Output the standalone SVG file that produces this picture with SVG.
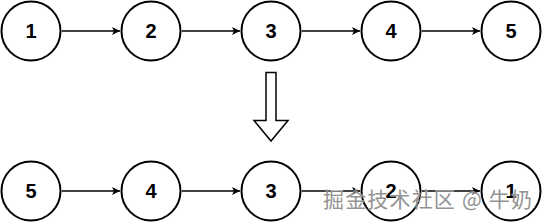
<svg xmlns="http://www.w3.org/2000/svg" width="542" height="222" viewBox="0 0 542 222">
<style>
.n circle{fill:#fff;stroke:#000;stroke-width:2}
.n text{font-family:"Liberation Sans",Arial,sans-serif;font-size:20px;font-weight:bold;text-anchor:middle;dominant-baseline:central;fill:#000}
.c line{stroke:#000;stroke-width:1.5}
.wm{font-family:"Noto Sans CJK SC","Liberation Sans",sans-serif;font-size:21px;fill:#888;stroke:#fff;stroke-width:0.6;paint-order:stroke;opacity:0.9}
</style>
<defs>
<marker id="ah" markerWidth="10" markerHeight="10" refX="9" refY="5" orient="auto" markerUnits="userSpaceOnUse">
<path d="M1,1 L9,5 L1,9 L3,5 Z" fill="#000"/>
</marker>
</defs>
<g class="c">
<line x1="62" y1="31" x2="120" y2="31" marker-end="url(#ah)"/>
<line x1="182" y1="31" x2="240" y2="31" marker-end="url(#ah)"/>
<line x1="302" y1="31" x2="360" y2="31" marker-end="url(#ah)"/>
<line x1="422" y1="31" x2="480" y2="31" marker-end="url(#ah)"/>
<line x1="62" y1="191" x2="120" y2="191" marker-end="url(#ah)"/>
<line x1="182" y1="191" x2="240" y2="191" marker-end="url(#ah)"/>
<line x1="302" y1="191" x2="360" y2="191" marker-end="url(#ah)"/>
<line x1="422" y1="191" x2="480" y2="191" marker-end="url(#ah)"/>
</g>
<g id="t1" class="n"><circle cx="31" cy="31" r="29.5"/><text x="31" y="31">1</text></g>
<g id="t2" class="n"><circle cx="151" cy="31" r="29.5"/><text x="151" y="31">2</text></g>
<g id="t3" class="n"><circle cx="271" cy="31" r="29.5"/><text x="271" y="31">3</text></g>
<g id="t4" class="n"><circle cx="391" cy="31" r="29.5"/><text x="391" y="31">4</text></g>
<g id="t5" class="n"><circle cx="511" cy="31" r="29.5"/><text x="511" y="31">5</text></g>
<g id="b5" class="n"><circle cx="31" cy="191" r="29.5"/><text x="31" y="191">5</text></g>
<g id="b4" class="n"><circle cx="151" cy="191" r="29.5"/><text x="151" y="191">4</text></g>
<g id="b3" class="n"><circle cx="271" cy="191" r="29.5"/><text x="271" y="191">3</text></g>
<g id="b2" class="n"><circle cx="391" cy="191" r="29.5"/><text x="391" y="191">2</text></g>
<g id="b1" class="n"><circle cx="511" cy="191" r="29.5"/><text x="511" y="191">1</text></g>
<g id="down">
<path d="M266,72.5 L276,72.5 L276,120.5 L288,120.5 L271,141 L254,120.5 L266,120.5 Z" fill="#fff" stroke="#000" stroke-width="1.5" stroke-linejoin="miter"/>
</g>
<text class="wm" x="323" y="207" textLength="209">掘金技术社区 @ 牛奶</text>
</svg>
